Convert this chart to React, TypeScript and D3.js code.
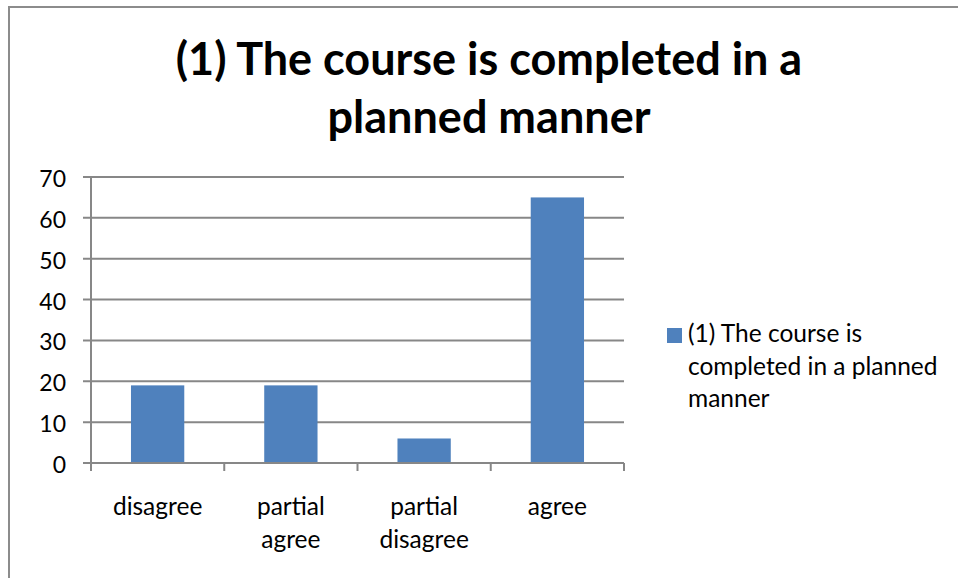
import React from "react";
import * as d3 from "d3";

const categories = ["disagree", "partial agree", "partial disagree", "agree"];
const categoryLines = [["disagree"], ["partial", "agree"], ["partial", "disagree"], ["agree"]];
const values = [19, 19, 6, 65];
const yTicks = [0, 10, 20, 30, 40, 50, 60, 70];
const titleLines = ["(1) The course is completed in a", "planned manner"];
const seriesName = ["(1) The course is", "completed in a planned", "manner"];

const W = 958;
const H = 578;
const FONT = "Lato, 'Open Sans', sans-serif";
const BAR = "#4F81BD";
const GRID = "#878787";

export default function App() {
  const left = 91, right = 624, top = 177, bottom = 463;
  const x = d3.scaleBand<string>().domain(categories).range([left, right]).paddingInner(0.6).paddingOuter(0.3);
  const xb = d3.scaleBand<string>().domain(categories).range([left, right]);
  const y = d3.scaleLinear().domain([0, 70]).range([bottom, top]);

  return (
    <svg width={W} height={H} style={{ position: "absolute", left: 0, top: 0 }} fontFamily={FONT}>
      <rect x={0} y={0} width={W} height={H} fill="#fff" />
      <rect x={9} y={7} width={W + 20} height={H + 20} fill="none" stroke="#8c8c8c" strokeWidth={2} />
      <g fontWeight="bold" fontSize={45} textAnchor="middle" fill="#000">
        {titleLines.map((t, i) => (
          <text key={i} x={489} y={75 + i * 58}>{t}</text>
        ))}
      </g>
      {yTicks.map((t) => (
        <g key={t}>
          <line x1={83} x2={right} y1={y(t)} y2={y(t)} stroke={GRID} strokeWidth={2} />
          <text x={66} y={y(t) + 2} dy="0.35em" textAnchor="end" fontSize={23} fill="#000">{t}</text>
        </g>
      ))}
      {categories.map((c, i) => (
        <rect key={c} x={x(c)} y={y(values[i])} width={x.bandwidth()} height={y(0) - y(values[i])} fill={BAR} />
      ))}
      <line x1={left} x2={left} y1={top} y2={bottom + 8} stroke={GRID} strokeWidth={2} />
      <line x1={left} x2={right} y1={bottom} y2={bottom} stroke={GRID} strokeWidth={2} />
      {categories.map((c) => (
        <line key={c} x1={(xb(c) as number) + xb.bandwidth()} x2={(xb(c) as number) + xb.bandwidth()} y1={bottom} y2={bottom + 8} stroke={GRID} strokeWidth={2} />
      ))}
      {categories.map((c, i) => (
        <text key={c} x={(xb(c) as number) + xb.bandwidth() / 2} y={515} textAnchor="middle" fontSize={24.5} fill="#000">
          {categoryLines[i].map((l, j) => (
            <tspan key={j} x={(xb(c) as number) + xb.bandwidth() / 2} dy={j === 0 ? 0 : 33}>{l}</tspan>
          ))}
        </text>
      ))}
      <rect x={667} y={328} width={15} height={15} fill={BAR} />
      <text x={688} y={342} fontSize={24.5} fill="#000">
        {seriesName.map((l, j) => (
          <tspan key={j} x={688} dy={j === 0 ? 0 : 32.5}>{l}</tspan>
        ))}
      </text>
    </svg>
  );
}
